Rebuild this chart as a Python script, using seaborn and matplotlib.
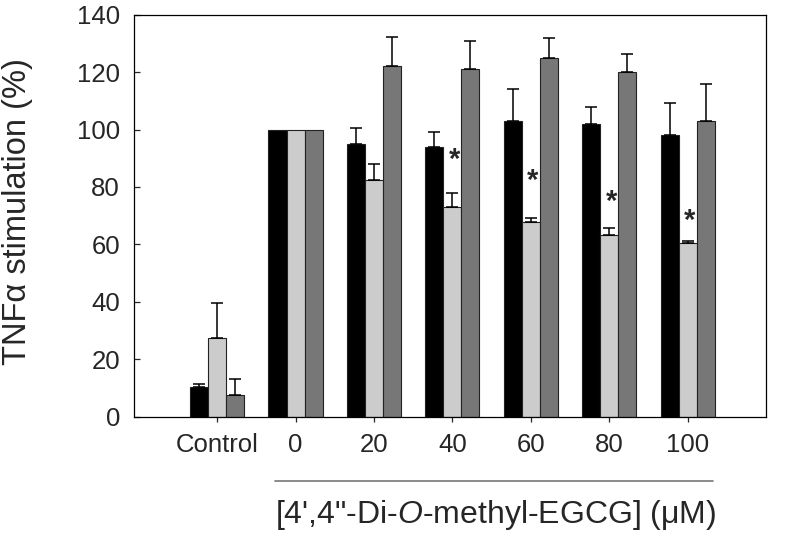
import numpy as np
import pandas as pd
import matplotlib
matplotlib.use("Agg")
import matplotlib.pyplot as plt
import matplotlib.transforms as mtransforms
import seaborn as sns

# values (% TNFa stimulation, mean and upper SD)
doses = ["Control", "0", "20", "40", "60", "80", "100"]
series = ["s1", "s2", "s3"]
black_vals = [10.5, 100, 95, 94, 103, 102, 98]
black_err = [0.8, 0, 5.5, 5.2, 11, 5.8, 11.3]
light_vals = [27.5, 100, 82.3, 73, 67.8, 63.3, 60.5]
light_err = [12, 0, 5.8, 4.9, 1.4, 2.3, 0.6]
dark_vals = [7.7, 100, 122, 121, 125, 120, 103]
dark_err = [5.3, 0, 10.4, 10, 7, 6.2, 13]
# significance stars on the light series (dose label, height of star centre)
star_doses = ["40", "60", "80", "100"]
star_y = [92.3, 85.1, 77.8, 71.1]

colors = ["#000000", "#cccccc", "#777777"]

sns.set_style("ticks")
plt.rcParams["font.family"] = ["Liberation Sans", "DejaVu Sans"]
plt.rcParams["mathtext.fontset"] = "custom"
plt.rcParams["mathtext.rm"] = "Liberation Sans"
plt.rcParams["mathtext.it"] = "Liberation Sans:italic"

df = pd.DataFrame({
    "dose": doses * 3,
    "series": np.repeat(series, len(doses)),
    "value": black_vals + light_vals + dark_vals,
    "err": black_err + light_err + dark_err,
})

fig = plt.figure(figsize=(8, 5.45), dpi=100)
ax = fig.add_axes([0.1675, 0.2354, 0.79, 0.7376])

sns.barplot(data=df, x="dose", y="value", hue="series", order=doses,
            hue_order=series, palette=colors, width=0.69, gap=0,
            errorbar=None, edgecolor="#222222", linewidth=0.8,
            legend=False, ax=ax)

# one-sided error bars on top of each bar
bars = [p for p in ax.patches if p.get_height() > 0]
for i, s in enumerate(series):
    sub = df[df["series"] == s].reset_index(drop=True)
    for j in range(len(doses)):
        p = bars[i * len(doses) + j]
        e = sub.loc[j, "err"]
        if e <= 0:
            continue
        xc = p.get_x() + p.get_width() / 2
        ax.errorbar(xc, p.get_height(), yerr=[[0], [e]], fmt="none",
                    ecolor="black", elinewidth=1.1, capsize=4.6,
                    capthick=1.1)

# stars over the light bars
light_bars = bars[len(doses):2 * len(doses)]
for d, y in zip(star_doses, star_y):
    p = light_bars[doses.index(d)]
    ax.annotate("*", xy=(p.get_x() + p.get_width() / 2 + 0.025, y),
                xytext=(0, -12), textcoords="offset points",
                ha="center", va="baseline", fontsize=21, fontweight="bold")

ax.set_xlim(-1.06, 7.0)
ax.set_ylim(0, 140)
ax.set_yticks(range(0, 141, 20))
ax.tick_params(axis="y", direction="in", length=4.5, width=0.9,
               labelsize=18.5, pad=10)
ax.tick_params(axis="x", direction="out", length=3.8, width=0.9,
               labelsize=18.5, pad=8)
for sp in ax.spines.values():
    sp.set_visible(True)
    sp.set_linewidth(0.9)
    sp.set_color("black")

ax.set_xlabel("")
ax.set_ylabel("TNF\u03b1 stimulation (%)", fontsize=23.5)
ax.yaxis.set_label_coords(-0.16, 0.51)

# bracket line under the dose groups and the dose label
trans = mtransforms.blended_transform_factory(ax.transData, ax.transAxes)
ax.plot([0.74, 6.32], [-0.16, -0.16], transform=trans, color="#777777",
        linewidth=1.2, clip_on=False)
ax.text(0.572, -0.245, "[4',4\"-Di-$\\mathit{O}$-methyl-EGCG] (\u03bcM)",
        transform=ax.transAxes, ha="center", va="center", fontsize=23)

plt.savefig("out.png", dpi=100)
plt.close()
